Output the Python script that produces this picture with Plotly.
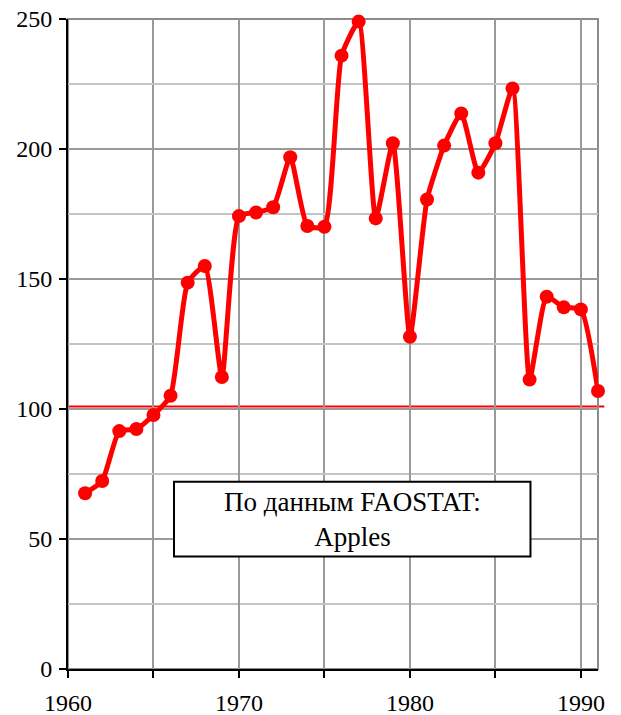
import plotly.graph_objects as go

years = list(range(1961, 1992))
values = [67.6, 72.3, 91.5, 92.3, 97.7, 105.1, 148.6, 155.0, 112.3, 174.2,
          175.6, 177.6, 196.8, 170.4, 170.1, 235.9, 249.0, 173.3, 202.2, 127.8,
          180.6, 201.3, 213.7, 190.9, 202.2, 223.3, 111.3, 143.2, 139.1, 138.3,
          106.9]
reference_level = 101
x_tickvals = [1960, 1970, 1980, 1990]
y_tickvals = [0, 50, 100, 150, 200, 250]
note_lines = ["По данным FAOSTAT:", "Apples"]

FONT = "Liberation Serif"

fig = go.Figure()
fig.add_trace(go.Scatter(
    x=years, y=values, mode="lines+markers",
    line=dict(color="#ff0000", width=5, shape="spline", smoothing=0.5),
    marker=dict(color="#ff0000", size=14),
    showlegend=False, hoverinfo="skip", cliponaxis=False,
))

# reference line
fig.add_shape(type="line", xref="paper", yref="y", x0=0, x1=1.012,
              y0=reference_level, y1=reference_level,
              line=dict(color="#ff0000", width=2), layer="between")
# gray frame top/right
fig.add_shape(type="rect", xref="paper", yref="paper", x0=0, x1=1, y0=0, y1=1,
              line=dict(color="#8c8c8c", width=2), layer="between")
# note box
fig.add_shape(type="rect", xref="x", yref="y", x0=1966.2, x1=1987.05, y0=43.3, y1=72.0,
              line=dict(color="black", width=2), fillcolor="white", layer="between")
fig.add_annotation(x=(1966.2 + 1987.05) / 2, y=(43.3 + 72.0) / 2, xref="x", yref="y",
                   text="<br>".join(note_lines), showarrow=False,
                   font=dict(family=FONT, size=27, color="black"), align="center")

fig.update_layout(
    width=621, height=715,
    margin=dict(l=68, r=23, t=19, b=46, autoexpand=False),
    paper_bgcolor="white", plot_bgcolor="white",
    font=dict(family=FONT, size=24, color="black"),
    xaxis=dict(range=[1960, 1991], tickvals=x_tickvals, ticks="outside", ticklen=7,
               tickwidth=2, tickcolor="black", showline=True, linecolor="black",
               linewidth=2, showgrid=True, gridcolor="#9a9a9a", gridwidth=1.5,
               zeroline=False, automargin=False, ticklabeloverflow="allow",
               ticklabelstandoff=4,
               minor=dict(dtick=5, tick0=1960, ticks="outside", ticklen=7, tickwidth=2,
                          tickcolor="black", showgrid=True, gridcolor="#9a9a9a",
                          gridwidth=1.5)),
    yaxis=dict(range=[0, 250], tickvals=y_tickvals, ticks="outside", ticklen=7,
               tickwidth=2, tickcolor="black", showline=True, linecolor="black",
               linewidth=2, showgrid=True, gridcolor="#9a9a9a", gridwidth=1.5,
               zeroline=False, automargin=False, ticklabeloverflow="allow",
               ticklabelstandoff=2,
               minor=dict(dtick=25, tick0=0, ticks="", showgrid=True,
                          gridcolor="#c4c4c4", gridwidth=1.5)),
)

# remove the browser's default 8px body margin so the figure fills the window
fig.write_html("out.html", config={"displayModeBar": False},
               post_script="document.body.style.margin='0px';document.body.style.overflow='hidden';")
